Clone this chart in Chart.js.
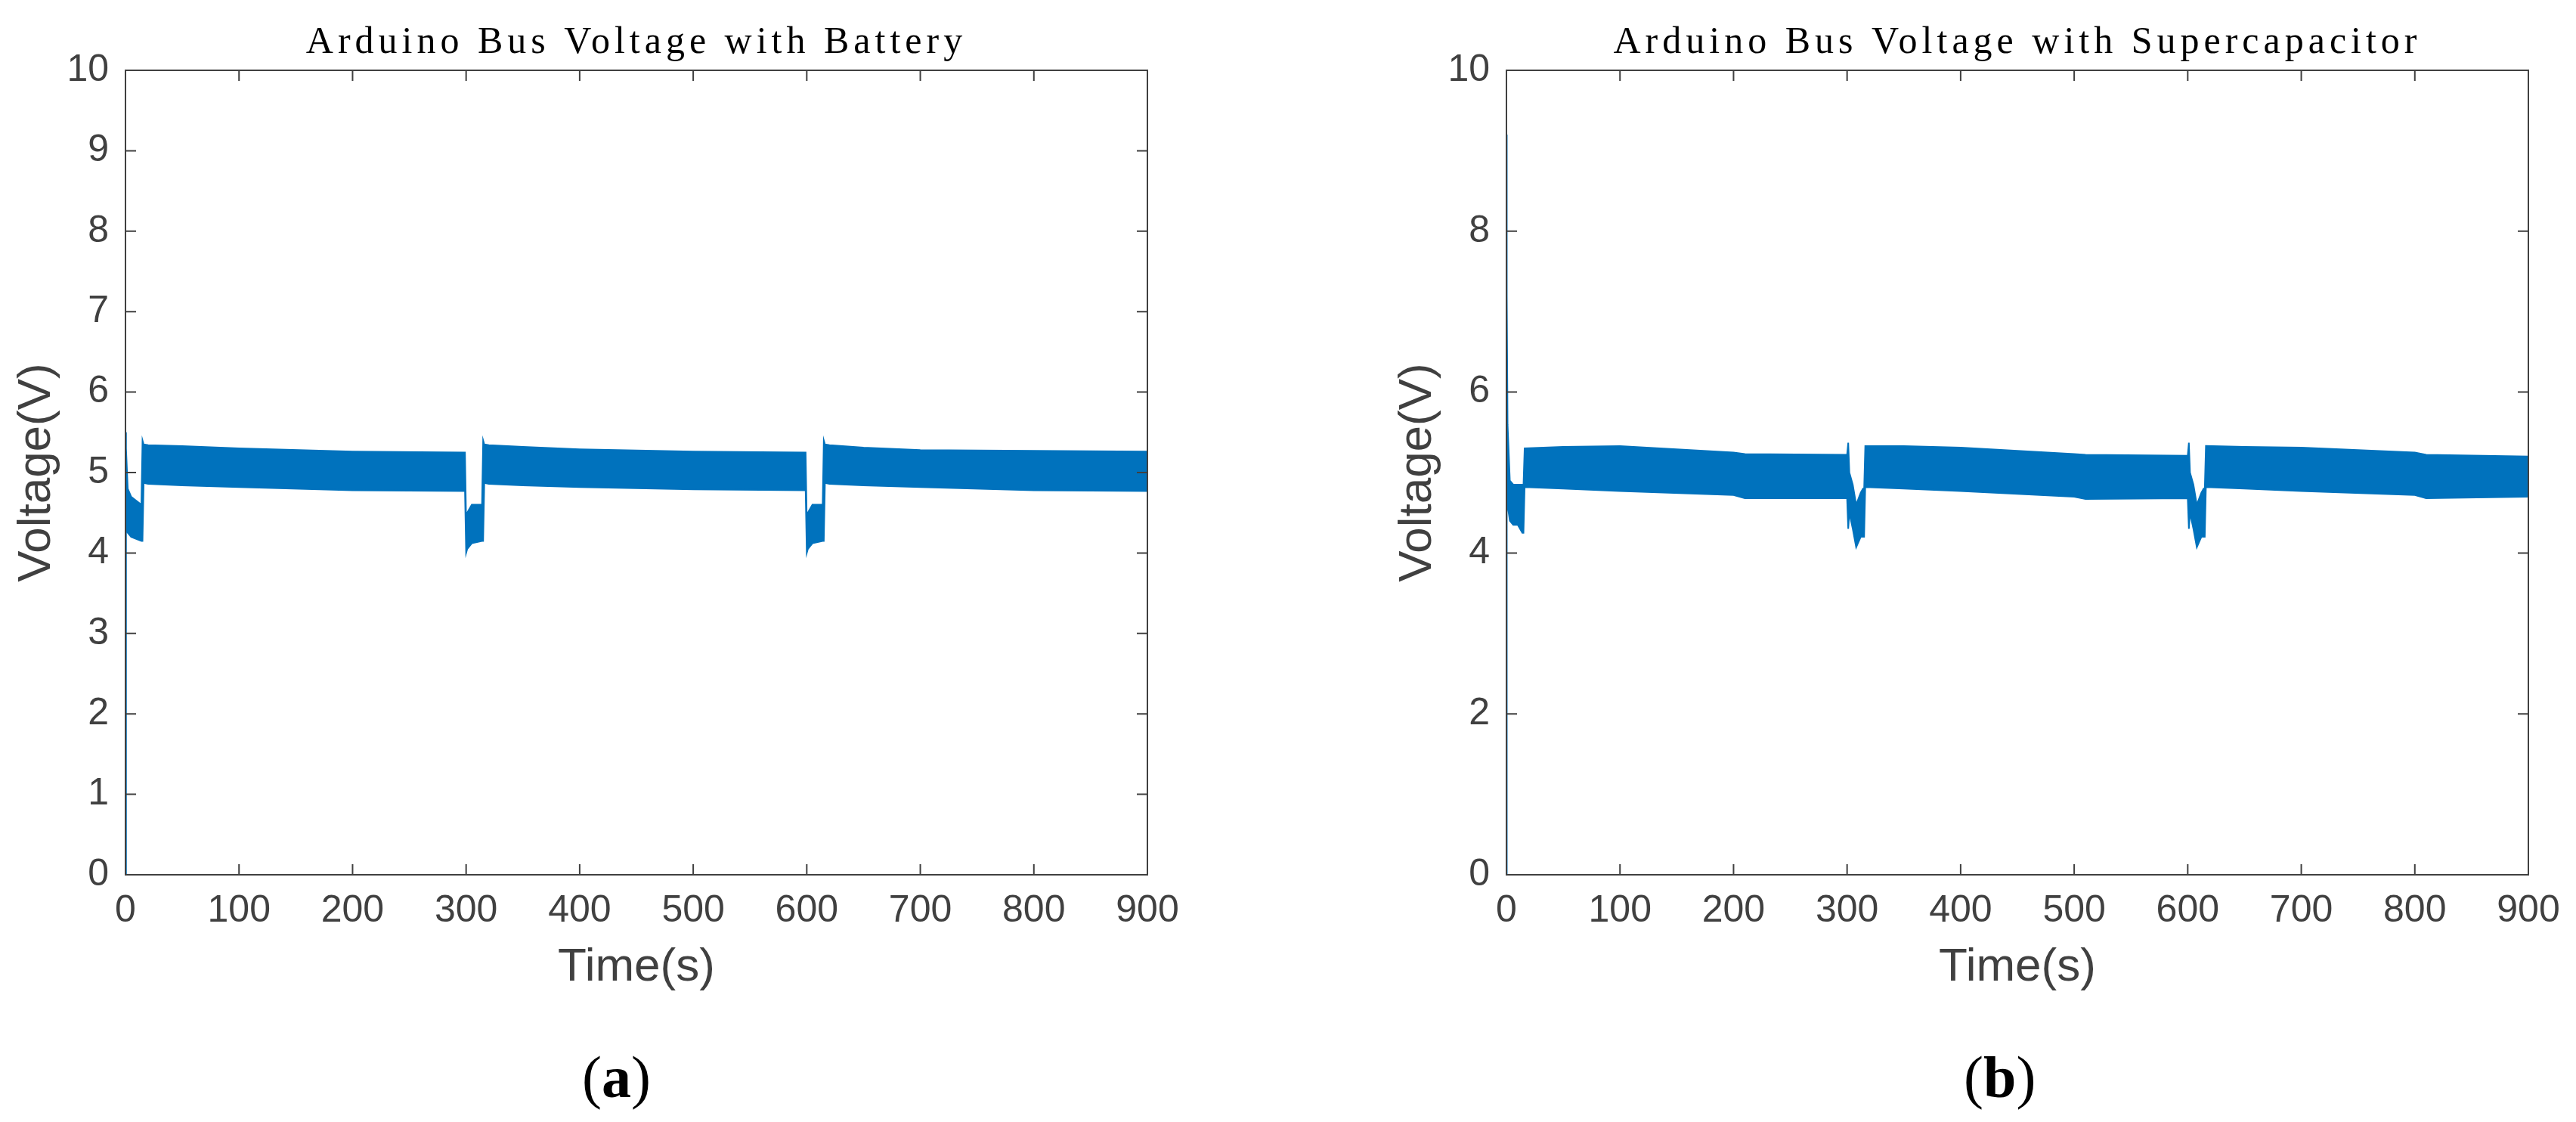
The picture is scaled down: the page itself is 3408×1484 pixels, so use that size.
<!DOCTYPE html>
<html>
<head>
<meta charset="utf-8">
<script src="https://cdn.jsdelivr.net/npm/chart.js@4"></script>
<style>
  body { margin: 0; background: #fff; width: 3408px; height: 1484px; overflow: hidden; position: relative; }
  .panel { position: absolute; top: 0; width: 1704px; height: 1484px; }
  .tag { position: absolute; top: 1380px; font-family: 'Liberation Serif', serif; font-size: 78px; color: #000; }
  .tag b { font-weight: bold; }
</style>
</head>
<body>
<div class="panel" style="left:0"><canvas id="chartA"></canvas></div>
<div class="panel" style="left:1704px"><canvas id="chartB"></canvas></div>
<div class="tag" style="left:770px">(<b>a</b>)</div>
<div class="tag" style="left:2598px">(<b>b</b>)</div>
<script>
// Envelope of the (dense, oscillating) bus voltage
const timesA = [0, 0.5, 2, 5, 14, 15, 16, 20, 50, 100, 200, 299,
    300, 301, 305, 314, 315, 316, 320, 350, 400, 500, 599,
    600, 601, 605, 614, 615, 616, 620, 650, 700, 800, 900];
const upperA = [5.5, 5.3, 4.8, 4.7, 4.6, 5.4, 5.35, 5.34, 5.33, 5.3, 5.26, 5.25,
    4.4, 4.5, 4.6, 4.6, 5.4, 5.35, 5.34, 5.32, 5.29, 5.26, 5.25,
    4.4, 4.5, 4.6, 4.6, 5.4, 5.35, 5.34, 5.31, 5.28, 5.27, 5.26];
const lowerA = [0, 4.3, 4.25, 4.2, 4.15, 4.15, 4.87, 4.86, 4.84, 4.82, 4.78, 4.77,
    4.0, 4.05, 4.12, 4.15, 4.15, 4.87, 4.86, 4.84, 4.82, 4.79, 4.78,
    4.0, 4.05, 4.12, 4.15, 4.15, 4.87, 4.86, 4.84, 4.82, 4.78, 4.77];

const timesB = [0, 0.3, 1, 3, 6, 10, 14, 15, 16, 50, 100, 200, 210, 300,
    301, 302, 305, 308, 312, 314, 315, 316, 350, 400, 500, 510, 600,
    601, 602, 605, 608, 612, 614, 615, 616, 650, 700, 800, 810, 900];
const upperB = [9.2, 7.2, 5.6, 4.9, 4.85, 4.85, 4.85, 4.85, 5.3, 5.32, 5.33, 5.25, 5.23, 5.22,
    5.37, 5.0, 4.85, 4.6, 4.75, 4.8, 4.8, 5.33, 5.33, 5.31, 5.23, 5.22, 5.21,
    5.37, 5.0, 4.85, 4.6, 4.75, 4.8, 4.8, 5.33, 5.32, 5.31, 5.25, 5.22, 5.2];
const lowerB = [0, 4.6, 4.6, 4.4, 4.35, 4.35, 4.25, 4.25, 4.82, 4.8, 4.77, 4.72, 4.68, 4.68,
    4.3, 4.5, 4.3, 4.07, 4.2, 4.2, 4.2, 4.82, 4.8, 4.77, 4.7, 4.67, 4.68,
    4.3, 4.5, 4.3, 4.07, 4.2, 4.2, 4.2, 4.82, 4.8, 4.77, 4.72, 4.68, 4.7];

const xTicks = [0, 100, 200, 300, 400, 500, 600, 700, 800, 900];
const titleA = 'Arduino Bus Voltage with Battery';
const titleB = 'Arduino Bus Voltage with Supercapacitor';

const blue = '#0072BD';
const axisColor = '#404040';

const toPoints = (xs, ys) => xs.map((x, i) => ({ x: x, y: ys[i] }));

// MATLAB-style box with inward ticks on all four sides, plus the title
const matlabBox = {
    id: 'matlabBox',
    afterDraw(chart, args, opts) {
        const { ctx, chartArea: a, scales } = chart;
        ctx.save();
        ctx.strokeStyle = axisColor;
        ctx.lineWidth = 2;
        ctx.strokeRect(a.left, a.top, a.right - a.left, a.bottom - a.top);
        const len = 14;
        ctx.beginPath();
        scales.x.ticks.forEach(t => {
            const px = scales.x.getPixelForValue(t.value);
            ctx.moveTo(px, a.bottom); ctx.lineTo(px, a.bottom - len);
            ctx.moveTo(px, a.top); ctx.lineTo(px, a.top + len);
        });
        scales.y.ticks.forEach(t => {
            const py = scales.y.getPixelForValue(t.value);
            ctx.moveTo(a.left, py); ctx.lineTo(a.left + len, py);
            ctx.moveTo(a.right, py); ctx.lineTo(a.right - len, py);
        });
        ctx.stroke();
        ctx.fillStyle = '#000';
        ctx.font = '50px "Liberation Serif", serif';
        ctx.letterSpacing = '6px';
        ctx.textAlign = 'center';
        ctx.textBaseline = 'middle';
        ctx.fillText(opts.text, (a.left + a.right) / 2, 57);
        ctx.restore();
    }
};

function makeChart(id, times, upper, lower, title, yStep, padLeft, padRight) {
    const tickFont = { family: "'Liberation Sans', Arial, sans-serif", size: 50 };
    return new Chart(document.getElementById(id), {
        type: 'line',
        data: {
            datasets: [{
                data: toPoints(times, upper),
                borderColor: blue,
                borderWidth: 2,
                pointRadius: 0,
                fill: false
            }, {
                data: toPoints(times, lower),
                borderColor: blue,
                borderWidth: 2,
                backgroundColor: blue,
                pointRadius: 0,
                fill: '-1'
            }]
        },
        options: {
            responsive: true,
            maintainAspectRatio: false,
            animation: false,
            layout: { padding: { left: padLeft, right: padRight, top: 93, bottom: 167 } },
            plugins: {
                legend: { display: false },
                tooltip: { enabled: false },
                matlabBox: { text: title }
            },
            scales: {
                x: {
                    type: 'linear',
                    min: 0,
                    max: 900,
                    afterBuildTicks: s => { s.ticks = xTicks.map(v => ({ value: v })); },
                    afterFit: s => { s.height = 160; },
                    grid: { display: false },
                    border: { display: false },
                    ticks: { color: axisColor, font: tickFont, padding: 10, maxRotation: 0 },
                    title: { display: true, text: 'Time(s)', color: axisColor,
                        font: { family: "'Liberation Sans', Arial, sans-serif", size: 62 }, padding: 0 }
                },
                y: {
                    min: 0,
                    max: 10,
                    afterFit: s => { s.width = 154; },
                    grid: { display: false },
                    border: { display: false },
                    ticks: { stepSize: yStep, color: axisColor, font: tickFont, padding: 14 },
                    title: { display: true, text: 'Voltage(V)', color: axisColor,
                        font: { family: "'Liberation Sans', Arial, sans-serif", size: 62 }, padding: 0 }
                }
            }
        },
        plugins: [matlabBox]
    });
}

makeChart('chartA', timesA, upperA, lowerA, titleA, 1, 12, 186);
makeChart('chartB', timesB, upperB, lowerB, titleB, 2, 135, 63);
</script>
</body>
</html>
